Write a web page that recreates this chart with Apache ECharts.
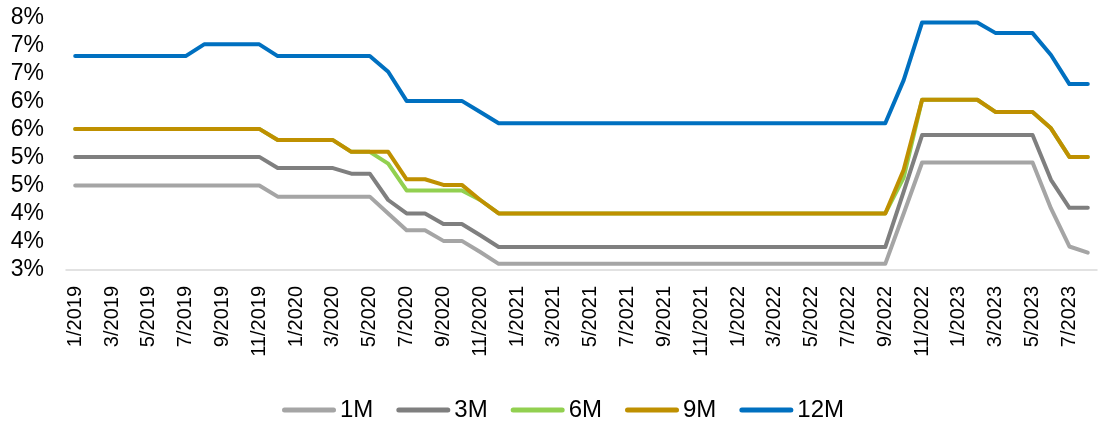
<!DOCTYPE html>
<html>
<head>
<meta charset="utf-8">
<script src="https://cdn.jsdelivr.net/npm/echarts@6/dist/echarts.min.js"></script>
<style>
html,body{margin:0;padding:0;background:#fff;}
#c{width:1107px;height:423px;}
</style>
</head>
<body>
<div id="c"></div>
<script>
const months = [
 "1/2019","2/2019","3/2019","4/2019","5/2019","6/2019","7/2019","8/2019","9/2019","10/2019","11/2019","12/2019",
 "1/2020","2/2020","3/2020","4/2020","5/2020","6/2020","7/2020","8/2020","9/2020","10/2020","11/2020","12/2020",
 "1/2021","2/2021","3/2021","4/2021","5/2021","6/2021","7/2021","8/2021","9/2021","10/2021","11/2021","12/2021",
 "1/2022","2/2022","3/2022","4/2022","5/2022","6/2022","7/2022","8/2022","9/2022","10/2022","11/2022","12/2022",
 "1/2023","2/2023","3/2023","4/2023","5/2023","6/2023","7/2023","8/2023"
];
const seriesNames = ["1M","3M","6M","9M","12M"];
const m1 = [4.51,4.51,4.51,4.51,4.51,4.51,4.51,4.51,4.51,4.51,4.51,
 4.31,4.31,4.31,4.31,4.31,4.31,
 4.01,3.71,3.71,3.52,3.52,3.32,
 3.11,3.11,3.11,3.11,3.11,3.11,3.11,3.11,3.11,3.11,3.11,3.11,3.11,3.11,3.11,3.11,3.11,3.11,3.11,3.11,3.11,3.11,
 4.01,4.92,4.92,4.92,4.92,4.92,4.92,4.92,
 4.10,3.42,3.31];
const m3 = [5.02,5.02,5.02,5.02,5.02,5.02,5.02,5.02,5.02,5.02,5.02,
 4.82,4.82,4.82,4.82,
 4.72,4.72,
 4.25,4.01,4.01,3.82,3.82,3.62,
 3.41,3.41,3.41,3.41,3.41,3.41,3.41,3.41,3.41,3.41,3.41,3.41,3.41,3.41,3.41,3.41,3.41,3.41,3.41,3.41,3.41,3.41,
 4.40,5.41,5.41,5.41,5.41,5.41,5.41,5.41,
 4.61,4.11,4.11];
const m6 = [5.52,5.52,5.52,5.52,5.52,5.52,5.52,5.52,5.52,5.52,5.52,
 5.32,5.32,5.32,5.32,
 5.11,5.11,
 4.90,4.42,4.42,4.42,4.42,4.25,
 4.01,4.01,4.01,4.01,4.01,4.01,4.01,4.01,4.01,4.01,4.01,4.01,4.01,4.01,4.01,4.01,4.01,4.01,4.01,4.01,4.01,4.01,
 4.65,6.04,6.04,6.04,6.04,5.82,5.82,5.82,
 5.53,5.02,5.02];
const m9 = [5.52,5.52,5.52,5.52,5.52,5.52,5.52,5.52,5.52,5.52,5.52,
 5.32,5.32,5.32,5.32,
 5.11,5.11,
 5.11,4.62,4.62,4.52,4.52,4.25,
 4.01,4.01,4.01,4.01,4.01,4.01,4.01,4.01,4.01,4.01,4.01,4.01,4.01,4.01,4.01,4.01,4.01,4.01,4.01,4.01,4.01,4.01,
 4.79,6.04,6.04,6.04,6.04,5.82,5.82,5.82,
 5.53,5.02,5.02];
const m12 = [6.82,6.82,6.82,6.82,6.82,6.82,6.82,
 7.03,7.03,7.03,7.03,
 6.82,6.82,6.82,6.82,6.82,6.82,
 6.54,6.02,6.02,6.02,6.02,5.82,
 5.62,5.62,5.62,5.62,5.62,5.62,5.62,5.62,5.62,5.62,5.62,5.62,5.62,5.62,5.62,5.62,5.62,5.62,5.62,5.62,5.62,5.62,
 6.39,7.42,7.42,7.42,7.42,7.23,7.23,7.23,
 6.84,6.32,6.32];
const colors = ["#A5A5A5","#7F7F7F","#92D050","#BF9000","#0070C0"];
const yMin = 3, yMax = 7.5, yStep = 0.5;

const font = "'Liberation Sans', Arial, sans-serif";
const allData = [m1, m3, m6, m9, m12];
const chart = echarts.init(document.getElementById('c'), null, {renderer: 'canvas'});
chart.setOption({
  animation: false,
  color: colors,
  grid: {left: 66, right: 10, top: 18, bottom: 153, containLabel: false},
  legend: {
    left: 282, bottom: 1, padding: 0,
    itemWidth: 54, itemHeight: 5, itemGap: 23,
    icon: 'path://M2.5,0 L51.5,0 A2.5,2.5 0 0 1 51.5,5 L2.5,5 A2.5,2.5 0 0 1 2.5,0 Z',
    textStyle: {fontFamily: font, fontSize: 24, color: '#000', padding: [0,0,0,-1]},
    data: seriesNames
  },
  xAxis: {
    type: 'category', data: months, boundaryGap: true,
    axisLine: {lineStyle: {color: '#D9D9D9', width: 1.5}},
    axisTick: {interval: 1, length: 6, lineStyle: {color: '#D9D9D9', width: 1.5}},
    axisLabel: {interval: 1, rotate: 90, margin: 16, fontFamily: font, fontSize: 20, color: '#000'},
    splitLine: {show: false}
  },
  yAxis: {
    type: 'value', min: yMin, max: yMax, interval: yStep,
    axisLine: {show: false}, axisTick: {show: false}, splitLine: {show: false},
    axisLabel: {margin: 22, fontFamily: font, fontSize: 23, color: '#000',
      formatter: v => Math.round(v) + '%'}
  },
  series: seriesNames.map((n, i) => ({
    name: n, type: 'line', data: allData[i], symbol: 'none',
    lineStyle: {width: 4, color: colors[i], cap: 'round', join: 'round'},
    itemStyle: {color: colors[i]}
  }))
});
</script>
</body>
</html>
